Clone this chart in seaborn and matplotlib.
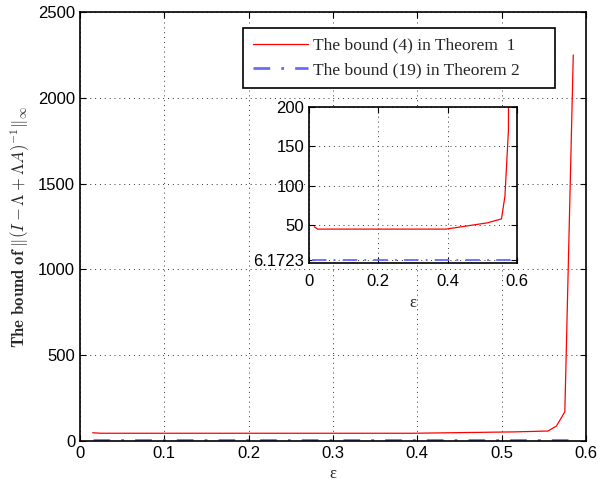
import matplotlib
matplotlib.use("Agg")
import matplotlib.pyplot as plt
import seaborn as sns
import pandas as pd

eps = [0.015, 0.025, 0.395, 0.455, 0.515, 0.555, 0.565, 0.575, 0.585]
bound4 = [48, 45, 45, 49, 53, 58, 87, 170, 2250]
eps_b19 = [0.015, 0.1, 0.2, 0.3, 0.4, 0.5, 0.58]
bound19 = [6.1723] * len(eps_b19)
main_xticks = [0, 0.1, 0.2, 0.3, 0.4, 0.5, 0.6]
main_yticks = [0, 500, 1000, 1500, 2000, 2500]
inset_xticks = [0, 0.2, 0.4, 0.6]
inset_yticks = [6.1723, 50, 100, 150, 200]
label4 = "The bound (4) in Theorem  1"
label19 = "The bound (19) in Theorem 2"

sns.set_style("ticks")
plt.rcParams["font.family"] = ["Liberation Sans", "DejaVu Sans"]
plt.rcParams["mathtext.fontset"] = "cm"
plt.rcParams["xtick.direction"] = "in"
plt.rcParams["ytick.direction"] = "in"

df4 = pd.DataFrame({"eps": eps, "val": bound4})
df19 = pd.DataFrame({"eps": eps_b19, "val": bound19})

red = "#ff0000"
blue = "#6a6aff"

fig = plt.figure(figsize=(5.98, 4.83), dpi=100)
ax = fig.add_axes([0.1338, 0.087, 0.846, 0.888])


def style(a, xt, yt, xl, yl, size, xpad):
    a.set_xlim(*xl)
    a.set_ylim(*yl)
    a.set_xticks(xt)
    a.set_xticklabels([("%g" % v) for v in xt])
    a.set_yticks(yt)
    a.set_yticklabels([("%g" % v) for v in yt])
    a.grid(True, linestyle=(0, (1, 4)), color="#333333", linewidth=0.7)
    a.tick_params(top=True, right=True, labelsize=size, length=4, width=0.8, colors="black")
    a.tick_params(axis="x", pad=xpad)
    for s in a.spines.values():
        s.set_linewidth(1.2)
        s.set_color("black")
        s.set_visible(True)


sns.lineplot(data=df4, x="eps", y="val", ax=ax, color=red, linewidth=0.9, label=label4)
sns.lineplot(data=df19, x="eps", y="val", ax=ax, color=blue, linewidth=2.0,
             linestyle=(0, (6, 4, 1, 4)), label=label19)
style(ax, main_xticks, main_yticks, (0, 0.6), (0, 2500), 12, 3.5)
ax.set_xlabel("ε", family="Liberation Serif", fontsize=12)
ax.set_ylabel(r"$\mathbf{The\ bound\ of}\ \|(I-\Lambda+\Lambda A)^{-1}\|_\infty$", fontsize=12)
leg = ax.legend(loc="upper left", bbox_to_anchor=(0.322, 0.8275, 0.617, 0.1355), mode="expand",
                borderaxespad=0, frameon=True, fancybox=False,
                edgecolor="black", framealpha=1, handlelength=3.15,
                prop={"family": "Liberation Serif", "size": 12.6}, borderpad=0.55,
                labelspacing=0.45, handletextpad=0.3)
leg.get_frame().set_linewidth(1.2)

axi = fig.add_axes([0.5167, 0.4555, 0.348, 0.323])
sns.lineplot(data=df4, x="eps", y="val", ax=axi, color=red, linewidth=0.9, legend=False)
sns.lineplot(data=pd.DataFrame({"eps": [0.01, 0.6], "val": [6.1723, 6.1723]}), x="eps", y="val",
             ax=axi, color=blue, linewidth=1.3, linestyle=(0, (8, 4, 1, 4)), legend=False)
style(axi, inset_xticks, inset_yticks, (0, 0.6), (2, 200), 12, 8)
axi.set_xlabel("ε", family="Liberation Serif", fontsize=12)
axi.set_ylabel("")

fig.savefig("out.png", dpi=100)
